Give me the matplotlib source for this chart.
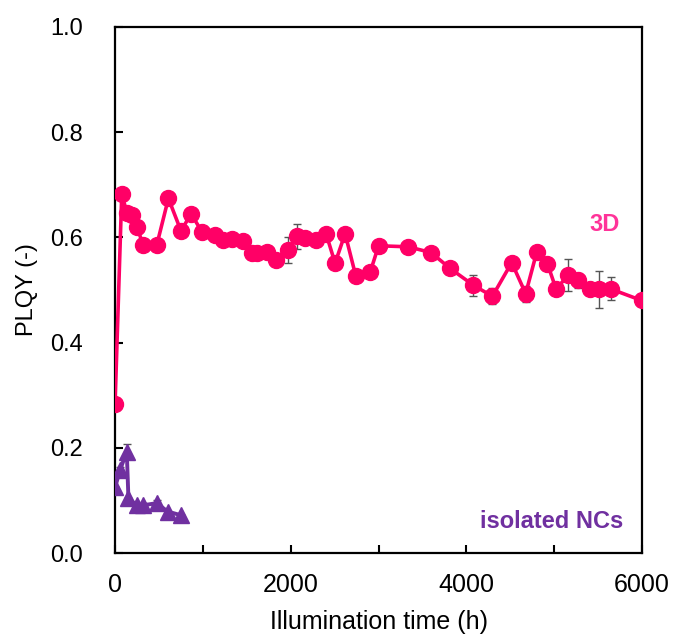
import matplotlib.pyplot as plt
import numpy as np

# datos
t_3d = [0, 76, 133, 190, 247, 322, 474, 607, 751, 865, 987, 1139, 1226, 1328, 1461,
        1556, 1621, 1727, 1829, 1973, 2068, 2163, 2289, 2402, 2505, 2619, 2740, 2905,
        3000, 3340, 3598, 3814, 4080, 4296, 4516, 4675, 4801, 4922, 5021, 5161, 5275,
        5408, 5510, 5643, 5996]
plqy_3d = [0.284, 0.683, 0.647, 0.643, 0.620, 0.585, 0.585, 0.674, 0.612, 0.645, 0.611,
           0.604, 0.595, 0.596, 0.593, 0.570, 0.570, 0.573, 0.557, 0.576, 0.602, 0.599,
           0.595, 0.607, 0.551, 0.607, 0.527, 0.534, 0.584, 0.582, 0.571, 0.541, 0.509,
           0.488, 0.552, 0.493, 0.572, 0.550, 0.502, 0.528, 0.518, 0.502, 0.501, 0.502,
           0.480]
err_3d = [0, 0, 0, 0, 0, 0, 0, 0, 0, 0, 0, 0, 0, 0, 0,
          0, 0, 0, 0, 0.024, 0.024, 0, 0, 0, 0, 0, 0, 0.008,
          0, 0, 0, 0, 0.02, 0.015, 0, 0.015, 0, 0, 0, 0.03, 0.015,
          0, 0.035, 0.022, 0]

t_nc = [0, 57, 133, 152, 247, 322, 474, 599, 751]
plqy_nc = [0.125, 0.158, 0.193, 0.104, 0.091, 0.091, 0.095, 0.079, 0.072]
err_nc = [0, 0.005, 0.014, 0, 0, 0.004, 0.006, 0, 0]

pink = '#FF0066'
purple = '#7030A0'

plt.rcParams['font.family'] = ['Liberation Sans', 'DejaVu Sans']

fig = plt.figure(figsize=(6.73, 6.38), dpi=100)
ax = fig.add_axes([0.171, 0.133, 0.783, 0.825])

ax.errorbar(t_3d, plqy_3d, yerr=err_3d, color=pink, marker='o', markersize=11.5,
            linewidth=2.6, ecolor='#555555', elinewidth=1, capsize=3, capthick=1, zorder=3)
ax.errorbar(t_nc, plqy_nc, yerr=err_nc, color=purple, marker='^', markersize=11,
            linewidth=2.8, ecolor='#555555', elinewidth=1, capsize=3, capthick=1, zorder=3)

ax.set_xlim(0, 6000)
ax.set_ylim(0, 1.0)
ax.set_xticks([0, 2000, 4000, 6000])
ax.set_xticks([1000, 3000, 5000], minor=True)
ax.set_yticks(np.arange(0, 1.01, 0.2))
ax.set_yticklabels(['%.1f' % v for v in np.arange(0, 1.01, 0.2)])
ax.tick_params(axis='y', direction='in', length=6, width=1.5, labelsize=17, pad=23)
ax.tick_params(axis='x', which='both', direction='in', length=6, width=1.5, labelsize=18, pad=14)
for s in ax.spines.values():
    s.set_linewidth(1.6)

ax.set_xlabel('Illumination time (h)', fontsize=18, labelpad=10)
ax.set_ylabel('PLQY (-)', fontsize=17, labelpad=9)

ax.text(5579, 0.625, '3D', color='#FF3399', fontsize=17, fontweight='bold', ha='center', va='center')
ax.text(5784, 0.061, 'isolated NCs', color=purple, fontsize=17, fontweight='bold', ha='right', va='center')

fig.savefig('out.png', dpi=100)
